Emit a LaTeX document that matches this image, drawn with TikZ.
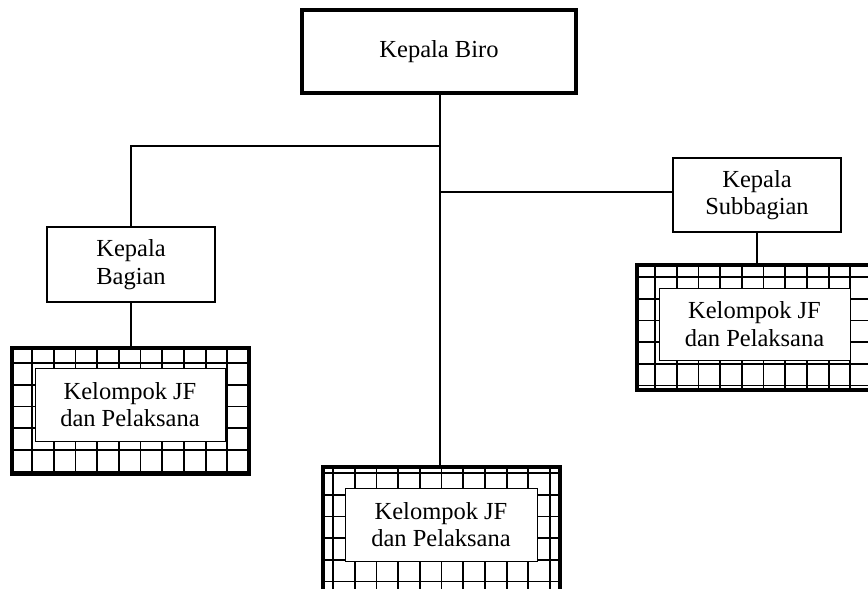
\documentclass[tikz,border=0pt]{standalone}
\usepackage{fontspec}
\setmainfont{Liberation Serif}
\newcommand\gridfill[6]{%
  \begin{scope}
    \clip (#1,#2) rectangle (#3,#4);
    \foreach \i in {0,...,12} \draw[gridline] ({#5+\i*21.7},#2) -- ({#5+\i*21.7},#4);
    \foreach \j in {0,...,7} \draw[gridline] (#1,{#6+\j*21.7}) -- (#3,{#6+\j*21.7});
  \end{scope}}
\begin{document}
\begin{tikzpicture}[x=1pt,y=-1pt,
  txt/.style={align=center, font=\fontsize{24.5}{27.5}\selectfont, inner sep=0pt},
  unitbox/.style={txt, draw, line width=1.6pt, fill=white},
  headbox/.style={txt, draw, line width=4.5pt, fill=white},
  gridouter/.style={draw, line width=4pt, minimum width=237pt, minimum height=126pt, inner sep=0pt},
  innerbox/.style={txt, draw, line width=0.8pt, fill=white},
  gridline/.style={line width=1.8pt},
  conn/.style={line width=1.5pt}]
\clip (0,0) rectangle (868,589);
\fill[white] (0,0) rectangle (868,589);

% grids
\gridfill{12}{348}{249}{474}{10.3}{341.3}
\gridfill{637}{265}{873}{390}{633.3}{255.3}
\gridfill{323}{467}{560}{593}{311.3}{451.3}

% boxes
\node[headbox, minimum width=274pt, minimum height=83pt] (biro) at (439,51.5) {Kepala Biro};
\node[unitbox, minimum width=168pt, minimum height=75pt] (bagian) at (131,264.5) {Kepala\\Bagian};
\node[unitbox, minimum width=168pt, minimum height=74pt] (subbag) at (757,195) {Kepala\\Subbagian};

\node[gridouter] (leftgrid) at (130.5,411) {};
\node[gridouter, minimum height=125pt] (rightgrid) at (755,327.5) {};
\node[gridouter] (bottomgrid) at (441.5,530) {};

\node[innerbox, minimum width=190pt, minimum height=73pt] (leftjf) at (130,404.5) {Kelompok JF\\dan Pelaksana};
\node[innerbox, minimum width=191pt, minimum height=72pt] (rightjf) at (754.5,324) {Kelompok JF\\dan Pelaksana};
\node[innerbox, minimum width=192pt, minimum height=73pt] (bottomjf) at (441,524.5) {Kelompok JF\\dan Pelaksana};

% connectors
\coordinate (j1) at (440,146);
\coordinate (j2) at (440,192);
\draw[conn] (biro.south -| j1) -- (bottomgrid.north -| j1);
\draw[conn] (j1) -| (bagian.north);
\draw[conn] (j2) -- (j2 -| subbag.west);
\draw[conn] (bagian.south) -- (bagian.south |- leftgrid.north);
\draw[conn] (subbag.south) -- (subbag.south |- rightgrid.north);
\end{tikzpicture}
\end{document}
